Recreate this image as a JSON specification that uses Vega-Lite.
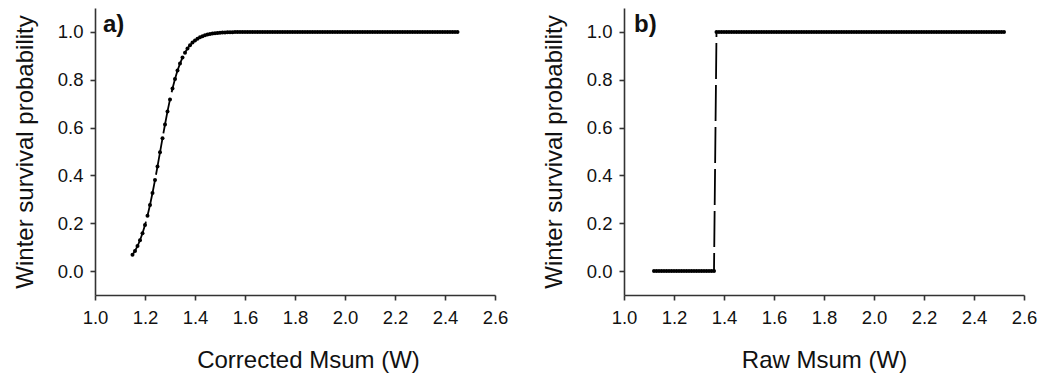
{
"$schema": "https://vega.github.io/schema/vega-lite/v6.json",
"background": "white",
"padding": {"left": 13, "top": 8, "right": 5, "bottom": 2},
"spacing": 34,
"config": {
  "view": {"stroke": null},
  "axis": {"grid": false, "domainColor": "#333", "tickColor": "#333", "labelColor": "#111", "titleColor": "#111", "labelFont": "Liberation Sans", "titleFont": "Liberation Sans", "labelFontSize": 18.5, "titleFontSize": 24, "titleFontWeight": "normal", "domainWidth": 1.6, "tickWidth": 1.6, "tickSize": 5, "labelOverlap": false, "labelFlush": false}
},
"datasets": {
"a": [
{"x":1.15,"p":0.0678},{"x":1.16,"p":0.0844},{"x":1.17,"p":0.1046},{"x":1.18,"p":0.1290},{"x":1.19,"p":0.1580},{"x":1.20,"p":0.1922},{"x":1.21,"p":0.2316},{"x":1.22,"p":0.2765},{"x":1.23,"p":0.3263},{"x":1.24,"p":0.3804},{"x":1.25,"p":0.4376},{"x":1.26,"p":0.4965},{"x":1.27,"p":0.5555},{"x":1.28,"p":0.6130},{"x":1.29,"p":0.6675},{"x":1.30,"p":0.7178},{"x":1.31,"p":0.7633},{"x":1.32,"p":0.8034},{"x":1.33,"p":0.8382},{"x":1.34,"p":0.8678},{"x":1.35,"p":0.8927},{"x":1.36,"p":0.9134},{"x":1.37,"p":0.9304},{"x":1.38,"p":0.9443},{"x":1.39,"p":0.9555},{"x":1.40,"p":0.9646},{"x":1.41,"p":0.9718},{"x":1.42,"p":0.9776},{"x":1.43,"p":0.9823},{"x":1.44,"p":0.9860},{"x":1.45,"p":0.9889},{"x":1.46,"p":0.9912},{"x":1.47,"p":0.9931},{"x":1.48,"p":0.9945},{"x":1.49,"p":0.9957},{"x":1.50,"p":0.9966},{"x":1.51,"p":0.9973},{"x":1.52,"p":0.9979},{"x":1.53,"p":0.9983},{"x":1.54,"p":0.9987},{"x":1.55,"p":0.9990},{"x":1.56,"p":0.9992},{"x":1.57,"p":0.9994},{"x":1.58,"p":0.9995},{"x":1.59,"p":0.9996},{"x":1.60,"p":0.9997},{"x":1.61,"p":0.9998},{"x":1.62,"p":0.9998},{"x":1.63,"p":0.9998},{"x":1.64,"p":0.9998},{"x":1.65,"p":0.9998},{"x":1.66,"p":0.9999},{"x":1.67,"p":0.9999},{"x":1.68,"p":0.9999},{"x":1.69,"p":0.9999},{"x":1.70,"p":0.9999},{"x":1.71,"p":0.9999},{"x":1.72,"p":0.9999},{"x":1.73,"p":0.9999},{"x":1.74,"p":0.9999},{"x":1.75,"p":0.9999},
{"x":1.76,"p":1},{"x":1.77,"p":1},{"x":1.78,"p":1},{"x":1.79,"p":1},{"x":1.80,"p":1},{"x":1.81,"p":1},{"x":1.82,"p":1},{"x":1.83,"p":1},{"x":1.84,"p":1},{"x":1.85,"p":1},{"x":1.86,"p":1},{"x":1.87,"p":1},{"x":1.88,"p":1},{"x":1.89,"p":1},{"x":1.90,"p":1},{"x":1.91,"p":1},{"x":1.92,"p":1},{"x":1.93,"p":1},{"x":1.94,"p":1},{"x":1.95,"p":1},{"x":1.96,"p":1},{"x":1.97,"p":1},{"x":1.98,"p":1},{"x":1.99,"p":1},{"x":2.00,"p":1},{"x":2.01,"p":1},{"x":2.02,"p":1},{"x":2.03,"p":1},{"x":2.04,"p":1},{"x":2.05,"p":1},{"x":2.06,"p":1},{"x":2.07,"p":1},{"x":2.08,"p":1},{"x":2.09,"p":1},{"x":2.10,"p":1},{"x":2.11,"p":1},{"x":2.12,"p":1},{"x":2.13,"p":1},{"x":2.14,"p":1},{"x":2.15,"p":1},{"x":2.16,"p":1},{"x":2.17,"p":1},{"x":2.18,"p":1},{"x":2.19,"p":1},{"x":2.20,"p":1},{"x":2.21,"p":1},{"x":2.22,"p":1},{"x":2.23,"p":1},{"x":2.24,"p":1},{"x":2.25,"p":1},{"x":2.26,"p":1},{"x":2.27,"p":1},{"x":2.28,"p":1},{"x":2.29,"p":1},{"x":2.30,"p":1},{"x":2.31,"p":1},{"x":2.32,"p":1},{"x":2.33,"p":1},{"x":2.34,"p":1},{"x":2.35,"p":1},{"x":2.36,"p":1},{"x":2.37,"p":1},{"x":2.38,"p":1},{"x":2.39,"p":1},{"x":2.40,"p":1},{"x":2.41,"p":1},{"x":2.42,"p":1},{"x":2.43,"p":1},{"x":2.44,"p":1},{"x":2.45,"p":1}
],
"b": [
{"x":1.12,"p":0},{"x":1.13,"p":0},{"x":1.14,"p":0},{"x":1.15,"p":0},{"x":1.16,"p":0},{"x":1.17,"p":0},{"x":1.18,"p":0},{"x":1.19,"p":0},{"x":1.20,"p":0},{"x":1.21,"p":0},{"x":1.22,"p":0},{"x":1.23,"p":0},{"x":1.24,"p":0},{"x":1.25,"p":0},{"x":1.26,"p":0},{"x":1.27,"p":0},{"x":1.28,"p":0},{"x":1.29,"p":0},{"x":1.30,"p":0},{"x":1.31,"p":0},{"x":1.32,"p":0},{"x":1.33,"p":0},{"x":1.34,"p":0},{"x":1.35,"p":0},{"x":1.36,"p":0},
{"x":1.37,"p":1},{"x":1.38,"p":1},{"x":1.39,"p":1},{"x":1.40,"p":1},{"x":1.41,"p":1},{"x":1.42,"p":1},{"x":1.43,"p":1},{"x":1.44,"p":1},{"x":1.45,"p":1},{"x":1.46,"p":1},{"x":1.47,"p":1},{"x":1.48,"p":1},{"x":1.49,"p":1},{"x":1.50,"p":1},{"x":1.51,"p":1},{"x":1.52,"p":1},{"x":1.53,"p":1},{"x":1.54,"p":1},{"x":1.55,"p":1},{"x":1.56,"p":1},{"x":1.57,"p":1},{"x":1.58,"p":1},{"x":1.59,"p":1},{"x":1.60,"p":1},{"x":1.61,"p":1},{"x":1.62,"p":1},{"x":1.63,"p":1},{"x":1.64,"p":1},{"x":1.65,"p":1},{"x":1.66,"p":1},{"x":1.67,"p":1},{"x":1.68,"p":1},{"x":1.69,"p":1},{"x":1.70,"p":1},{"x":1.71,"p":1},{"x":1.72,"p":1},{"x":1.73,"p":1},{"x":1.74,"p":1},{"x":1.75,"p":1},{"x":1.76,"p":1},{"x":1.77,"p":1},{"x":1.78,"p":1},{"x":1.79,"p":1},{"x":1.80,"p":1},{"x":1.81,"p":1},{"x":1.82,"p":1},{"x":1.83,"p":1},{"x":1.84,"p":1},{"x":1.85,"p":1},{"x":1.86,"p":1},{"x":1.87,"p":1},{"x":1.88,"p":1},{"x":1.89,"p":1},{"x":1.90,"p":1},{"x":1.91,"p":1},{"x":1.92,"p":1},{"x":1.93,"p":1},{"x":1.94,"p":1},{"x":1.95,"p":1},{"x":1.96,"p":1},{"x":1.97,"p":1},{"x":1.98,"p":1},{"x":1.99,"p":1},{"x":2.00,"p":1},{"x":2.01,"p":1},{"x":2.02,"p":1},{"x":2.03,"p":1},{"x":2.04,"p":1},{"x":2.05,"p":1},{"x":2.06,"p":1},{"x":2.07,"p":1},{"x":2.08,"p":1},{"x":2.09,"p":1},{"x":2.10,"p":1},{"x":2.11,"p":1},{"x":2.12,"p":1},{"x":2.13,"p":1},{"x":2.14,"p":1},{"x":2.15,"p":1},{"x":2.16,"p":1},{"x":2.17,"p":1},{"x":2.18,"p":1},{"x":2.19,"p":1},{"x":2.20,"p":1},{"x":2.21,"p":1},{"x":2.22,"p":1},{"x":2.23,"p":1},{"x":2.24,"p":1},{"x":2.25,"p":1},{"x":2.26,"p":1},{"x":2.27,"p":1},{"x":2.28,"p":1},{"x":2.29,"p":1},{"x":2.30,"p":1},{"x":2.31,"p":1},{"x":2.32,"p":1},{"x":2.33,"p":1},{"x":2.34,"p":1},{"x":2.35,"p":1},{"x":2.36,"p":1},{"x":2.37,"p":1},{"x":2.38,"p":1},{"x":2.39,"p":1},{"x":2.40,"p":1},{"x":2.41,"p":1},{"x":2.42,"p":1},{"x":2.43,"p":1},{"x":2.44,"p":1},{"x":2.45,"p":1},{"x":2.46,"p":1},{"x":2.47,"p":1},{"x":2.48,"p":1},{"x":2.49,"p":1},{"x":2.50,"p":1},{"x":2.51,"p":1},{"x":2.52,"p":1}
]
},
"hconcat": [
{
  "width": 400, "height": 287,
  "layer": [
    {"data": {"name": "a"}, "mark": {"type": "line", "color": "black", "strokeWidth": 1.8, "strokeDash": [36, 6]},
     "encoding": {
      "x": {"field": "x", "type": "quantitative", "scale": {"domain": [1, 2.6], "nice": false, "zero": false}, "axis": {"title": "Corrected Msum (W)", "titleX": 213, "values": [1.0,1.2,1.4,1.6,1.8,2.0,2.2,2.4,2.6], "format": ".1f", "labelPadding": 8, "titlePadding": 22}},
      "y": {"field": "p", "type": "quantitative", "scale": {"domain": [-0.1, 1.1], "nice": false, "zero": false}, "axis": {"title": "Winter survival probability", "values": [0,0.2,0.4,0.6,0.8,1.0], "format": ".1f", "labelPadding": 7, "titlePadding": 20}}
     }},
    {"data": {"name": "a"}, "mark": {"type": "point", "filled": true, "color": "black", "size": 16, "opacity": 1},
     "encoding": {"x": {"field": "x", "type": "quantitative"}, "y": {"field": "p", "type": "quantitative"}}},
    {"data": {"values": [{"label": "a)"}]}, "mark": {"type": "text", "font": "Liberation Sans", "fontWeight": "bold", "fontSize": 24, "align": "left", "baseline": "middle", "color": "#111"},
     "encoding": {"x": {"datum": 1.032, "type": "quantitative"}, "y": {"datum": 1.03, "type": "quantitative"}, "text": {"field": "label", "type": "nominal"}}}
  ]
},
{
  "width": 400, "height": 287,
  "layer": [
    {"data": {"name": "b"}, "mark": {"type": "line", "color": "black", "strokeWidth": 1.8, "strokeDash": [36, 6]},
     "encoding": {
      "x": {"field": "x", "type": "quantitative", "scale": {"domain": [1, 2.6], "nice": false, "zero": false}, "axis": {"title": "Raw Msum (W)", "values": [1.0,1.2,1.4,1.6,1.8,2.0,2.2,2.4,2.6], "format": ".1f", "labelPadding": 8, "titlePadding": 22}},
      "y": {"field": "p", "type": "quantitative", "scale": {"domain": [-0.1, 1.1], "nice": false, "zero": false}, "axis": {"title": "Winter survival probability", "values": [0,0.2,0.4,0.6,0.8,1.0], "format": ".1f", "labelPadding": 7, "titlePadding": 20}}
     }},
    {"data": {"name": "b"}, "mark": {"type": "point", "filled": true, "color": "black", "size": 16, "opacity": 1},
     "encoding": {"x": {"field": "x", "type": "quantitative"}, "y": {"field": "p", "type": "quantitative"}}},
    {"data": {"values": [{"label": "b)"}]}, "mark": {"type": "text", "font": "Liberation Sans", "fontWeight": "bold", "fontSize": 24, "align": "left", "baseline": "middle", "color": "#111"},
     "encoding": {"x": {"datum": 1.04, "type": "quantitative"}, "y": {"datum": 1.03, "type": "quantitative"}, "text": {"field": "label", "type": "nominal"}}}
  ]
}
]
}
